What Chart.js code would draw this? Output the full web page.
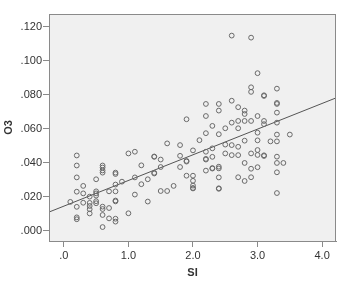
<!DOCTYPE html>
<html>
<head>
<meta charset="utf-8">
<script src="https://cdn.jsdelivr.net/npm/chart.js@4"></script>
<style>
  body { margin: 0; background: #ffffff; }
</style>
</head>
<body>
<canvas id="scatterChart" width="341" height="282"></canvas>
<script>
// values, one row per SI level
const siValues = [
    0.1,
    0.2, 0.2, 0.2, 0.2, 0.2, 0.2, 0.2,
    0.3, 0.3, 0.3,
    0.4, 0.4, 0.4, 0.4, 0.4,
    0.5, 0.5, 0.5, 0.5, 0.5, 0.5,
    0.6, 0.6, 0.6, 0.6, 0.6, 0.6, 0.6, 0.6,
    0.7, 0.7, 0.7,
    0.8, 0.8, 0.8, 0.8, 0.8, 0.8, 0.8, 0.8,
    0.9,
    1.0, 1.0,
    1.1, 1.1, 1.1,
    1.2, 1.2,
    1.3, 1.3,
    1.4, 1.4, 1.4, 1.4,
    1.5, 1.5, 1.5,
    1.6, 1.6,
    1.7,
    1.8, 1.8, 1.8,
    1.9, 1.9, 1.9, 1.9,
    2.0, 2.0, 2.0, 2.0, 2.0, 2.0,
    2.1,
    2.2, 2.2, 2.2, 2.2, 2.2, 2.2, 2.2,
    2.3, 2.3, 2.3, 2.3, 2.3,
    2.4, 2.4, 2.4, 2.4, 2.4, 2.4, 2.4, 2.4,
    2.5, 2.5, 2.5,
    2.6, 2.6, 2.6, 2.6, 2.6,
    2.7, 2.7, 2.7, 2.7, 2.7, 2.7,
    2.8, 2.8, 2.8, 2.8, 2.8, 2.8,
    2.9, 2.9, 2.9, 2.9, 2.9, 2.9, 2.9,
    3.0, 3.0, 3.0, 3.0, 3.0, 3.0, 3.0,
    3.1, 3.1, 3.1, 3.1, 3.1, 3.1,
    3.2,
    3.3, 3.3, 3.3, 3.3, 3.3, 3.3, 3.3, 3.3, 3.3, 3.3, 3.3,
    3.4,
    3.5
];
const o3Values = [
    0.0171,
    0.0444, 0.0385, 0.0315, 0.0231, 0.0142, 0.0080, 0.0069,
    0.0265, 0.0221, 0.0166,
    0.0202, 0.0165, 0.0147, 0.0128, 0.0103,
    0.0304, 0.0233, 0.0221, 0.0208, 0.0175, 0.0163,
    0.0385, 0.0373, 0.0356, 0.0343, 0.0143, 0.0129, 0.0094, 0.0023,
    0.0233, 0.0135, 0.0074,
    0.0343, 0.0335, 0.0273, 0.0233, 0.0179, 0.0174, 0.0072, 0.0055,
    0.0290,
    0.0456, 0.0104,
    0.0466, 0.0315, 0.0214,
    0.0386, 0.0275,
    0.0304, 0.0173,
    0.0438, 0.0436, 0.0342, 0.0338,
    0.0420, 0.0376, 0.0235,
    0.0515, 0.0235,
    0.0265,
    0.0505, 0.0442, 0.0376,
    0.0657, 0.0412, 0.0408, 0.0325,
    0.0474, 0.0325, 0.0295, 0.0267, 0.0253, 0.0250,
    0.0534,
    0.0747, 0.0676, 0.0575, 0.0466, 0.0424, 0.0420, 0.0355,
    0.0618, 0.0486, 0.0436, 0.0370, 0.0367,
    0.0747, 0.0708, 0.0569, 0.0378, 0.0368, 0.0315, 0.0251, 0.0248,
    0.0604, 0.0508, 0.0456,
    0.1149, 0.0766, 0.0637, 0.0505, 0.0446,
    0.0728, 0.0647, 0.0604, 0.0495, 0.0446, 0.0316,
    0.0708, 0.0688, 0.0647, 0.0531, 0.0400, 0.0294,
    0.1137, 0.0845, 0.0818, 0.0647, 0.0456, 0.0366, 0.0316,
    0.0928, 0.0676, 0.0578, 0.0533, 0.0476, 0.0447, 0.0375,
    0.0798, 0.0794, 0.0647, 0.0628, 0.0445, 0.0441,
    0.0527,
    0.0837, 0.0753, 0.0747, 0.0696, 0.0637, 0.0567, 0.0527, 0.0437, 0.0400, 0.0345, 0.0223,
    0.0400,
    0.0567
];

const xTicks = [0, 1, 2, 3, 4];
const yTicks = [0, 0.02, 0.04, 0.06, 0.08, 0.1, 0.12];
const xRange = [-0.23, 4.215];
const yRange = [-0.0059, 0.1276];

// fit line: O3 = intercept + slope * SI
const fitIntercept = 0.0146;
const fitSlope = 0.0151;

const linePoints = xRange.map(x => ({ x: x, y: fitIntercept + fitSlope * x }));
const points = siValues.map((x, i) => ({ x: x, y: o3Values[i] }));

// grey plot area with a frame round it
const plotFrame = {
    id: 'plotFrame',
    beforeDatasetsDraw(chart) {
        const { ctx, chartArea: a } = chart;
        ctx.save();
        ctx.fillStyle = '#f0f0f0';
        ctx.fillRect(a.left, a.top, a.right - a.left, a.bottom - a.top);
        ctx.restore();
    },
    afterDraw(chart) {
        const { ctx, chartArea: a } = chart;
        ctx.save();
        ctx.strokeStyle = '#8a8a8a';
        ctx.lineWidth = 1;
        ctx.strokeRect(a.left + 0.5, a.top + 0.5, a.right - a.left - 1, a.bottom - a.top);
        ctx.restore();
    }
};

function shortNum(v, digits) {
    return v.toFixed(digits).replace(/^0\./, '.');
}

const labelFont = { family: 'Arial, "Liberation Sans", sans-serif', size: 11 };
const titleFont = { family: 'Arial, "Liberation Sans", sans-serif', size: 11, weight: 'bold' };

new Chart(document.getElementById('scatterChart').getContext('2d'), {
    type: 'scatter',
    data: {
        datasets: [{
            data: points,
            pointStyle: 'circle',
            pointRadius: 2.4,
            pointBorderWidth: 1,
            pointBorderColor: '#6a6a6a',
            pointBackgroundColor: 'rgba(0,0,0,0)'
        }, {
            type: 'line',
            data: linePoints,
            borderColor: '#555555',
            borderWidth: 1,
            pointRadius: 0,
            fill: false
        }]
    },
    options: {
        responsive: false,
        animation: false,
        events: [],
        layout: { padding: { top: 14, right: 3, left: 0, bottom: 0 } },
        plugins: { legend: { display: false }, tooltip: { enabled: false } },
        scales: {
            x: {
                type: 'linear',
                min: xRange[0],
                max: xRange[1],
                afterBuildTicks: scale => { scale.ticks = xTicks.map(v => ({ value: v })); },
                afterFit: scale => { scale.height = 41; },
                grid: { drawOnChartArea: false, drawTicks: true, tickLength: 6, color: '#8a8a8a' },
                border: { display: true, color: '#8a8a8a' },
                ticks: {
                    padding: 2,
                    color: '#333333',
                    font: labelFont,
                    maxRotation: 0,
                    callback: v => shortNum(v, 1)
                },
                title: { display: true, text: 'SI', color: '#333333', font: titleFont, padding: { top: 0, bottom: 2 } }
            },
            y: {
                type: 'linear',
                min: yRange[0],
                max: yRange[1],
                afterBuildTicks: scale => { scale.ticks = yTicks.map(v => ({ value: v })); },
                afterFit: scale => { scale.width = 49; },
                grid: { drawOnChartArea: false, drawTicks: true, tickLength: 6, color: '#8a8a8a' },
                border: { display: true, color: '#8a8a8a' },
                ticks: {
                    padding: 1,
                    color: '#333333',
                    font: labelFont,
                    callback: v => shortNum(v, 3)
                },
                title: { display: true, text: 'O3', color: '#333333', font: titleFont, padding: { top: 2, bottom: 0 } }
            }
        }
    },
    plugins: [plotFrame]
});
</script>
</body>
</html>
